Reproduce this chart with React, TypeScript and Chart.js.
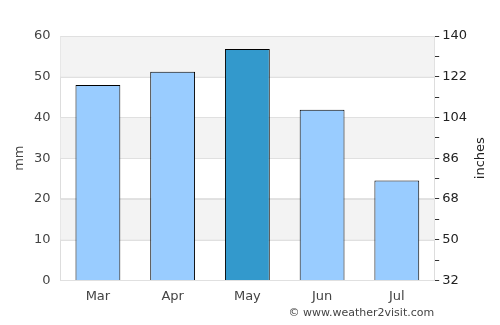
import React, { useEffect, useRef } from "react";
import { Chart, registerables } from "chart.js";

Chart.register(...registerables);

const months = ["Mar", "Apr", "May", "Jun", "Jul"];
const rainfallMm = [48.0, 51.2, 56.8, 41.9, 24.5];
const barColors = ["#99ccff", "#99ccff", "#3399cc", "#99ccff", "#99ccff"];
const bandRanges: [number, number][] = [
  [10, 20],
  [30, 40],
  [50, 60],
];
const credit = "© www.weather2visit.com";
const leftTitle = "mm";
const rightTitle = "inches";

const bandsPlugin = {
  id: "bands",
  beforeDraw(chart: any) {
    const { ctx, width, height } = chart;
    ctx.save();
    ctx.fillStyle = "#ffffff";
    ctx.fillRect(0, 0, width, height);
    ctx.restore();
  },
  beforeDatasetsDraw(chart: any) {
    const { ctx, chartArea, scales } = chart;
    const y = scales.y;
    ctx.save();
    ctx.fillStyle = "#f3f3f3";
    for (const [a, b] of bandRanges) {
      const top = y.getPixelForValue(b);
      const bottom = y.getPixelForValue(a);
      ctx.fillRect(chartArea.left, top, chartArea.right - chartArea.left, bottom - top);
    }
    ctx.strokeStyle = "#e0e0e0";
    ctx.lineWidth = 1;
    for (const t of y.ticks) {
      const py = Math.round(y.getPixelForValue(t.value)) + 0.5;
      ctx.beginPath();
      ctx.moveTo(chartArea.left, py);
      ctx.lineTo(chartArea.right, py);
      ctx.stroke();
    }
    ctx.restore();
  },
  afterDraw(chart: any) {
    const { ctx, chartArea } = chart;
    const midY = (chartArea.top + chartArea.bottom) / 2;
    ctx.save();
    ctx.font = "11px 'DejaVu Sans'";
    ctx.fillStyle = "#444";
    ctx.textAlign = "right";
    ctx.textBaseline = "middle";
    ctx.fillText(credit, chartArea.right, 313);
    ctx.restore();

    ctx.save();
    ctx.translate(20, midY);
    ctx.rotate(-Math.PI / 2);
    ctx.font = "13px 'DejaVu Sans'";
    ctx.fillStyle = "#444";
    ctx.textAlign = "center";
    ctx.textBaseline = "middle";
    ctx.fillText(leftTitle, 0, 0);
    ctx.restore();

    ctx.save();
    ctx.translate(481, midY);
    ctx.rotate(-Math.PI / 2);
    ctx.font = "13px 'DejaVu Sans'";
    ctx.fillStyle = "#222";
    ctx.textAlign = "center";
    ctx.textBaseline = "middle";
    ctx.fillText(rightTitle, 0, 0);
    ctx.restore();
  },
};

export default function App() {
  const ref = useRef<HTMLCanvasElement>(null);
  useEffect(() => {
    document.body.style.margin = "0";
    if (!ref.current) return;
    const chart = new Chart(ref.current, {
      type: "bar",
      data: {
        labels: months,
        datasets: [
          {
            data: rainfallMm,
            backgroundColor: barColors,
            borderColor: "#000",
            borderWidth: 1,
            barPercentage: 0.6,
            categoryPercentage: 1,
          },
        ],
      },
      options: {
        animation: false,
        responsive: false,
        devicePixelRatio: 1,
        layout: { padding: { top: 36, bottom: 21, left: 24, right: 30 } },
        plugins: { legend: { display: false }, tooltip: { enabled: false } },
        scales: {
          x: {
            grid: { display: false },
            border: { color: "#dddddd" },
            ticks: { color: "#444", font: { family: "'DejaVu Sans'", size: 13 }, padding: 0 },
          },
          y: {
            position: "left",
            min: 0,
            max: 60,
            ticks: { stepSize: 10, color: "#444", font: { family: "'DejaVu Sans'", size: 13 }, padding: 10 },
            grid: { color: "#e0e0e0", drawTicks: false },
            border: { color: "#dddddd" },
          },
          y2: {
            position: "right",
            min: 32,
            max: 140,
            ticks: {
              stepSize: 9,
              color: "#222",
              font: { family: "'DejaVu Sans'", size: 13 },
              padding: 3,
              callback: (v: any) => ((Number(v) - 32) % 18 === 0 ? String(v) : ""),
            },
            grid: { drawOnChartArea: false, color: "#333", tickLength: 5 },
            border: { color: "#dddddd" },
          },
        },
      },
      plugins: [bandsPlugin],
    });
    return () => chart.destroy();
  }, []);
  return (
    <div style={{ width: 500, height: 325 }}>
      <canvas ref={ref} width={500} height={325} style={{ display: "block" }} />
    </div>
  );
}
